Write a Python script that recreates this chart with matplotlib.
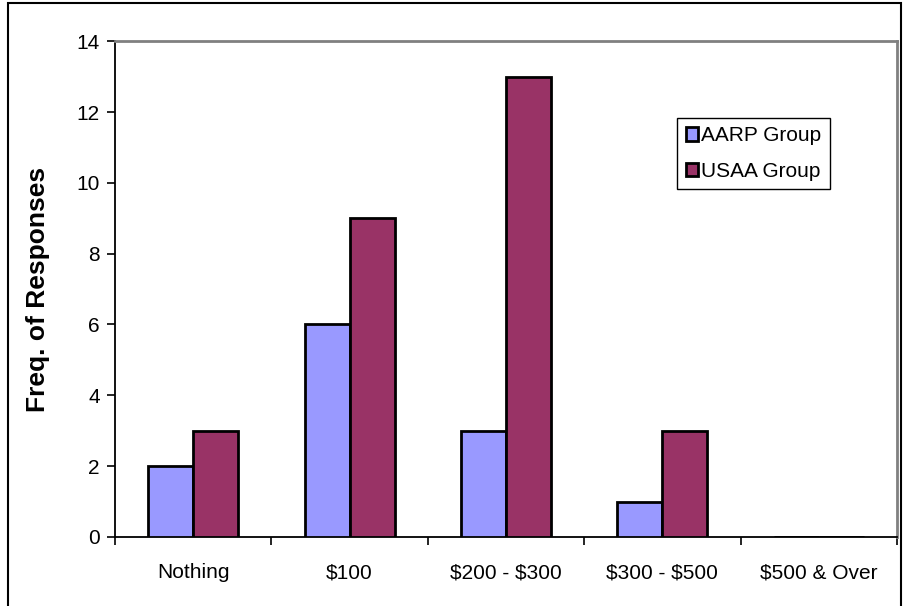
import numpy as np
import matplotlib.pyplot as plt
from matplotlib.patches import Rectangle

# ------------------------
# Survey responses
# ------------------------

categories = ["Nothing", r"\$100", r"\$200 - \$300", r"\$300 - \$500", r"\$500 & Over"]
aarp = [2, 6, 3, 1, 0]
usaa = [3, 9, 13, 3, 0]

plt.rcParams['font.family'] = ['Liberation Sans', 'DejaVu Sans']

fig = plt.figure(figsize=(9.06, 6.06), dpi=100)
ax = fig.add_axes([0.127, 0.114, 0.863, 0.818])

x = np.arange(len(categories))
w = 0.287

ax.bar(x - w / 2, aarp, width=w, color="#9999FF", edgecolor="black",
       linewidth=2, label="AARP Group", zorder=3)
ax.bar(x + w / 2, usaa, width=w, color="#993366", edgecolor="black",
       linewidth=2, label="USAA Group", zorder=3)

ax.set_xlim(-0.5, len(categories) - 0.5)
ax.set_ylim(0, 14)
ax.set_yticks(np.arange(0, 15, 2))
ax.set_xticks(x)
ax.set_xticklabels(categories, fontsize=15)
ax.set_xticks(np.arange(-0.5, len(categories), 1), minor=True)
ax.tick_params(axis='x', which='major', length=0, pad=19)
ax.tick_params(axis='x', which='minor', length=6, width=1.2, direction='out')
ax.tick_params(axis='y', length=6, width=1.2, direction='out', labelsize=15, pad=5)

ax.set_ylabel("Freq. of Responses", fontsize=19, fontweight='bold', labelpad=19)

for side in ['left', 'bottom']:
    ax.spines[side].set_color('black')
    ax.spines[side].set_linewidth(1.3)
for side in ['top', 'right']:
    ax.spines[side].set_color('#808080')
    ax.spines[side].set_linewidth(2)

leg = ax.legend(loc='upper left', bbox_to_anchor=(0.719, 0.845), fontsize=15,
                handlelength=0.6, handleheight=0.6, handletextpad=0.15,
                borderpad=0.4, labelspacing=0.8, fancybox=False,
                framealpha=1, edgecolor='black', borderaxespad=0)
leg.get_frame().set_linewidth(1.0)

# border around the whole chart
fig.patches.append(Rectangle((8 / 906, -0.01), 893 / 906, 1 - 3 / 606 + 0.01,
                             transform=fig.transFigure, fill=False,
                             edgecolor='black', linewidth=1.5))

fig.savefig("out.png", dpi=100)
